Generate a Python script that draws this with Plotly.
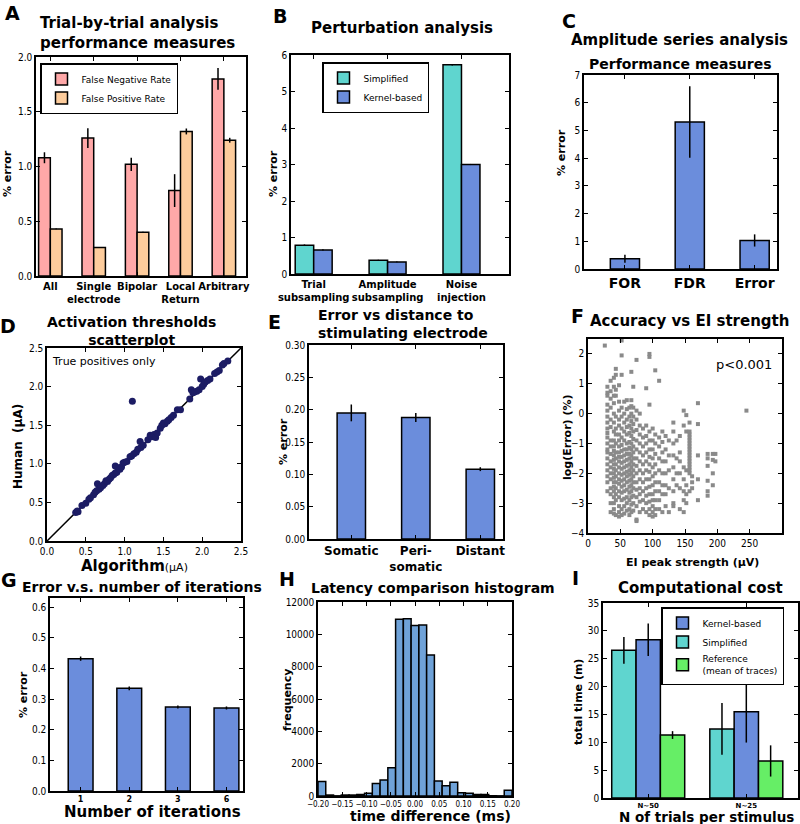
import plotly.graph_objects as go

# ---------------- data ----------------
# A: trial-by-trial analysis
a_labels = ["All", "Single<br>electrode", "Bipolar", "Local<br>Return", "Arbitrary"]
a_fnr = [1.08, 1.26, 1.02, 0.78, 1.80]
a_fnr_err = [0.05, 0.09, 0.06, 0.15, 0.10]
a_fpr = [0.43, 0.26, 0.40, 1.32, 1.24]
a_fpr_err = [0.004, 0.003, 0.005, 0.027, 0.022]

# B: perturbation analysis
b_labels = ["Trial<br>subsampling", "Amplitude<br>subsampling", "Noise<br>injection"]
b_simplified = [0.79, 0.38, 5.73]
b_simplified_err = [0.02, 0.01, 0.02]
b_kernel = [0.66, 0.33, 3.00]
b_kernel_err = [0.015, 0.01, 0.015]

# C: amplitude series analysis
c_labels = ["FOR", "FDR", "Error"]
c_vals = [0.37, 5.30, 1.03]
c_err = [0.14, 1.29, 0.22]

# D: activation thresholds (true positives only)
d_algorithm = [0.37, 0.39, 0.40, 0.45, 0.50, 0.54, 0.56, 0.60, 0.62, 0.64, 0.65, 0.67, 0.69,
               0.70, 0.72, 0.74, 0.76, 0.78, 0.80, 0.82, 0.84, 0.86, 0.88, 0.88, 0.90, 0.92,
               0.94, 0.96, 0.98, 1.00, 1.03, 1.07, 1.09, 1.10, 1.12, 1.15, 1.17, 1.20, 1.21,
               1.24, 1.30, 1.33, 1.35, 1.38, 1.40, 1.42, 1.46, 1.48, 1.50, 1.52, 1.55, 1.57,
               1.60, 1.63, 1.68, 1.72, 1.84, 1.86, 1.88, 1.90, 1.93, 1.96, 1.98, 2.00, 2.02,
               2.04, 2.07, 2.10, 2.16, 2.19, 2.22, 2.26, 2.28, 2.33]
d_human = [0.37, 0.39, 0.38, 0.46, 0.49, 0.54, 0.56, 0.60, 0.63, 0.65, 0.74, 0.67, 0.69,
           0.71, 0.72, 0.74, 0.78, 0.77, 0.80, 0.82, 0.85, 0.86, 0.97, 0.88, 0.89, 0.95,
           0.93, 0.96, 1.01, 1.02, 1.03, 1.09, 1.10, 1.81, 1.13, 1.15, 1.19, 1.29, 1.21,
           1.24, 1.31, 1.37, 1.35, 1.38, 1.34, 1.40, 1.46, 1.50, 1.53, 1.52, 1.55, 1.57,
           1.60, 1.63, 1.70, 1.70, 1.84, 1.96, 1.92, 1.93, 1.94, 1.96, 2.10, 2.00, 2.03,
           2.06, 2.08, 2.10, 2.17, 2.19, 2.21, 2.28, 2.30, 2.33]
d_identity = [0.0, 2.5]

# E: error vs distance to stimulating electrode
e_labels = ["Somatic", "Peri-<br>somatic", "Distant"]
e_vals = [0.195, 0.188, 0.108]
e_err = [0.013, 0.007, 0.003]

# F: accuracy vs EI strength, columns of (EI peak strength, log(error) values)
f_strips = [
    (26, [2.28]),
    (30, [0.9, 0.7, 0.6, 0.3, 0.1, -0.1, -0.3, -0.5, -0.65, -0.8, -1.0, -1.2, -1.3, -1.5,
          -1.7, -1.9, -2.1, -2.3, -2.6]),
    (35, [1.1, 0.75, 0.5, 0.2, -0.2, -0.45, -0.9, -1.1, -1.35, -1.6, -1.8, -2.0, -2.2, -2.5,
          -2.7, -3.0, -3.3]),
    (40, [1.2, 0.9, 0.6, 0.35, 0.0, -0.3, -0.6, -0.9, -1.1, -1.25, -1.4, -1.55, -1.7, -1.85,
          -2.0, -2.15, -2.3, -2.45, -2.6, -2.8, -3.0, -3.2, -3.35]),
    (43, [1.5, 1.3, 0.8, 0.6, -0.1, -0.5, -0.7, -1.0, -1.3, -1.5, -1.7, -1.9, -2.1, -2.3,
          -2.5, -2.7, -2.9, -3.4]),
    (48, [0.95, 0.4, 0.1, -0.2, -0.4, -0.7, -0.9, -1.1, -1.3, -1.45, -1.6, -1.8, -2.0, -2.2,
          -2.35, -2.6, -2.8, -3.1, -3.3, -3.45]),
    (52, [2.45, 1.95, 1.3, 0.2, -0.1, -0.5, -0.8, -1.05, -1.25, -1.45, -1.65, -1.85, -2.05,
          -2.25, -2.45, -2.65, -2.9, -3.2, -3.4]),
    (56, [0.4, 0.0, -0.3, -0.6, -0.9, -1.2, -1.4, -1.6, -1.8, -2.0, -2.2, -2.4, -2.6, -2.85,
          -3.1, -3.35]),
    (60, [0.45, 0.15, -0.2, -0.45, -0.7, -1.0, -1.2, -1.35, -1.55, -1.75, -1.95, -2.1, -2.3,
          -2.55, -2.8, -3.0, -3.25]),
    (64, [0.2, -0.1, -0.4, -0.65, -0.95, -1.15, -1.35, -1.5, -1.7, -1.9, -2.05, -2.25, -2.45,
          -2.65, -2.9, -3.2, -3.4]),
    (67, [1.4, 0.45, 0.25, 0.0, -0.25, -0.5, -0.75, -1.0, -1.2, -1.4, -1.6, -1.8, -2.0, -2.2,
          -2.4, -2.6, -2.8, -3.05, -3.3]),
    (70, [0.9, 0.2, -0.1, -0.35, -0.6, -0.85, -1.1, -1.3, -1.5, -1.7, -1.9, -2.1, -2.3, -2.5,
          -2.75, -3.0, -3.25]),
    (75, [1.8, 0.1, -0.2, -0.55, -0.9, -1.2, -1.5, -1.75, -2.0, -2.3, -2.55, -2.8, -3.1,
          -3.55, -3.6]),
    (80, [0.0, -0.4, -0.7, -1.0, -1.3, -1.6, -1.9, -2.2, -2.5, -2.7, -2.95, -3.3]),
    (85, [-0.5, -0.8, -1.1, -1.4, -1.7, -2.0, -2.3, -2.6, -2.9, -3.2]),
    (90, [0.85, -0.4, -0.75, -1.0, -1.3, -1.6, -1.9, -2.2, -2.5, -2.75, -3.0, -3.3]),
    (95, [2.0, 1.9, 0.3, -0.6, -0.9, -1.2, -1.45, -1.7, -1.95, -2.2, -2.45, -2.7, -2.95,
          -3.2, -3.4]),
    (100, [-0.5, -0.9, -1.2, -1.5, -1.8, -2.1, -2.4, -2.7, -2.9, -3.1, -3.3, -3.45]),
    (104, [1.45, -0.7, -1.0, -1.35, -1.7, -2.0, -2.3, -2.6, -2.9, -3.2, -3.4]),
    (110, [1.1, -0.8, -1.1, -1.5, -1.9, -2.3, -2.6, -2.9, -3.2]),
    (115, [-0.6, -0.95, -1.3, -1.6, -2.0, -2.4, -2.7, -3.3]),
    (120, [-0.75, -1.2, -1.6, -2.0, -2.4, -2.7, -3.1]),
    (125, [-0.9, -1.4, -1.9, -2.5, -3.3]),
    (132, [-0.3, -0.6, -1.0, -1.4, -1.8, -2.2, -2.6, -3.0, -3.1]),
    (137, [-0.9, -1.5, -2.0, -2.4]),
    (142, [-0.75, -1.3, -1.6, -2.0, -2.5, -3.2]),
    (148, [0.1, -0.4, -1.8, -2.2, -2.6, -2.9, -3.3]),
    (152, [-0.05, -0.6, -1.9, -2.4, -2.7, -3.0]),
    (157, [-0.3, -0.6, -0.7, -0.8, -0.9, -1.0, -1.1, -1.2, -1.3, -1.4, -1.5, -1.6, -1.7,
           -1.8, -1.9, -2.0, -2.6]),
    (161, [-2.1, -2.3, -2.5]),
    (170, [0.35, -0.35, -1.4, -2.2, -2.9]),
    (185, [-1.35, -1.5, -1.75, -2.25, -2.6, -2.75]),
    (193, [-1.35, -1.55, -2.0, -2.4]),
    (197, [-1.35, -1.6]),
    (245, [0.1]),
]

# G: error vs number of iterations
g_labels = ["1", "2", "3", "6"]
g_vals = [0.432, 0.335, 0.274, 0.271]
g_err = [0.007, 0.006, 0.005, 0.005]

# H: latency comparison histogram (left bin edges, counts)
h_left_edges = [-0.200, -0.184, -0.168, -0.152, -0.136, -0.120, -0.104, -0.088, -0.072,
                -0.056, -0.040, -0.024, -0.008, 0.008, 0.024, 0.040, 0.056, 0.072, 0.088,
                0.104, 0.120, 0.136, 0.152, 0.168, 0.184]
h_counts = [890, 60, 10, 60, 60, 100, 165, 780, 990, 1750, 10930, 10970, 10540, 10580,
            8720, 930, 640, 845, 200, 165, 100, 100, 15, 10, 350]
h_bin_width = 0.016

# I: computational cost
i_labels = ["N~50", "N~25"]
i_simplified = [26.5, 12.4]
i_simplified_err = [2.4, 4.65]
i_kernel = [28.4, 15.5]
i_kernel_err = [2.9, 5.55]
i_reference = [11.3, 6.65]
i_reference_err = [0.7, 2.8]

# ---------------- style ----------------
W, H = 800, 824
FONT = "DejaVu Sans"
TICK_FONT = "DejaVu Sans Condensed, DejaVu Sans"
PINK = "#ffa8a8"
PEACH = "#fdcc9c"
TURQ = "#5fd5cf"
BLUE = "#6b8ddc"
GREEN = "#66ee66"
HIST = "#6fa2d8"


def xdom(l, r):
    return [l / W, r / W]


def ydom(t, b):
    return [1 - b / H, 1 - t / H]


def axis(**kw):
    base = dict(showline=True, linecolor="black", linewidth=1.5, mirror="ticks",
                ticks="inside", ticklen=4, tickcolor="black", tickwidth=1,
                showgrid=False, zeroline=False, automargin=False,
                tickfont=dict(family=TICK_FONT, size=10, color="black"))
    base.update(kw)
    return base


def note(text, px, py, size, angle=0, align="center", xanchor="center"):
    return dict(text=text, x=px / W, y=1 - py / H, xref="paper", yref="paper",
                showarrow=False, textangle=angle, align=align,
                xanchor=xanchor, yanchor="middle",
                font=dict(family=FONT, size=size, color="black"))


def err(arr):
    return dict(type="data", array=arr, color="black", thickness=1.5, width=0)


def bold(labels):
    return ["<b>" + s + "</b>" for s in labels]


edge = dict(color="black", width=1.5)
fig = go.Figure()

# A
a_pos = list(range(len(a_labels)))
fig.add_trace(go.Bar(x=a_pos, y=a_fnr, width=0.27, offset=-0.27, marker=dict(color=PINK, line=edge),
                     error_y=err(a_fnr_err), name="False Negative Rate", legend="legend",
                     xaxis="x", yaxis="y"))
fig.add_trace(go.Bar(x=a_pos, y=a_fpr, width=0.27, offset=0, marker=dict(color=PEACH, line=edge),
                     error_y=err(a_fpr_err), name="False Positive Rate", legend="legend",
                     xaxis="x", yaxis="y"))

# B
b_pos = list(range(len(b_labels)))
fig.add_trace(go.Bar(x=b_pos, y=b_simplified, width=0.25, offset=-0.25, marker=dict(color=TURQ, line=edge),
                     error_y=err(b_simplified_err), name="Simplified", legend="legend2",
                     xaxis="x2", yaxis="y2"))
fig.add_trace(go.Bar(x=b_pos, y=b_kernel, width=0.25, offset=0, marker=dict(color=BLUE, line=edge),
                     error_y=err(b_kernel_err), name="Kernel-based", legend="legend2",
                     xaxis="x2", yaxis="y2"))

# C
c_pos = list(range(len(c_labels)))
fig.add_trace(go.Bar(x=c_pos, y=c_vals, width=0.45, marker=dict(color=BLUE, line=edge),
                     error_y=err(c_err), showlegend=False, xaxis="x3", yaxis="y3"))

# D
fig.add_trace(go.Scatter(x=d_identity, y=d_identity, mode="lines", line=dict(color="black", width=1.5),
                         showlegend=False, xaxis="x4", yaxis="y4"))
fig.add_trace(go.Scatter(x=d_algorithm, y=d_human, mode="markers",
                         marker=dict(color="#1c1c64", size=7, line=dict(width=0)),
                         showlegend=False, xaxis="x4", yaxis="y4"))

# E
e_pos = list(range(len(e_labels)))
fig.add_trace(go.Bar(x=e_pos, y=e_vals, width=0.44, marker=dict(color=BLUE, line=edge),
                     error_y=err(e_err), showlegend=False, xaxis="x5", yaxis="y5"))

# F
f_x = [x for x, ys in f_strips for _ in ys]
f_y = [y for _, ys in f_strips for y in ys]
fig.add_trace(go.Scatter(x=f_x, y=f_y, mode="markers",
                         marker=dict(symbol="square", color="#8a8a8a", size=4, line=dict(width=0)),
                         showlegend=False, xaxis="x6", yaxis="y6"))

# G
g_pos = list(range(len(g_labels)))
fig.add_trace(go.Bar(x=g_pos, y=g_vals, width=0.51, marker=dict(color=BLUE, line=edge),
                     error_y=err(g_err), showlegend=False, xaxis="x7", yaxis="y7"))

# H
fig.add_trace(go.Bar(x=h_left_edges, y=h_counts, width=h_bin_width, offset=0,
                     marker=dict(color=HIST, line=edge), showlegend=False,
                     xaxis="x8", yaxis="y8"))

# I
i_pos = list(range(len(i_labels)))
fig.add_trace(go.Bar(x=i_pos, y=i_simplified, width=0.248, offset=-0.372, marker=dict(color=TURQ, line=edge),
                     error_y=err(i_simplified_err), name="Simplified", legend="legend3", legendrank=2,
                     xaxis="x9", yaxis="y9"))
fig.add_trace(go.Bar(x=i_pos, y=i_kernel, width=0.248, offset=-0.124, marker=dict(color=BLUE, line=edge),
                     error_y=err(i_kernel_err), name="Kernel-based", legend="legend3", legendrank=1,
                     xaxis="x9", yaxis="y9"))
fig.add_trace(go.Bar(x=i_pos, y=i_reference, width=0.248, offset=0.124, marker=dict(color=GREEN, line=edge),
                     error_y=err(i_reference_err), name="Reference<br>(mean of traces)", legend="legend3",
                     legendrank=3, xaxis="x9", yaxis="y9"))

boxes = {
    1: (36, 57, 246, 276),
    2: (291, 55, 509, 274),
    3: (584, 75, 777, 269),
    4: (47, 348, 241, 541),
    5: (309, 345, 503, 539),
    6: (588, 339, 782, 533),
    7: (50, 598, 243, 791),
    8: (318, 602, 512, 796),
    9: (603, 603, 798, 798),
}

layout = dict(width=W, height=H, margin=dict(l=0, r=0, t=0, b=0),
              paper_bgcolor="white", plot_bgcolor="white", barmode="overlay",
              font=dict(family=FONT, color="black"))

xcfg = {
    1: dict(range=[-0.33, 4.51], tickvals=a_pos, ticktext=bold(a_labels),
            tickfont=dict(family=FONT, size=10, color="black")),
    2: dict(range=[-0.307, 2.643], tickvals=b_pos, ticktext=bold(b_labels),
            tickfont=dict(family=FONT, size=10, color="black")),
    3: dict(range=[-0.631, 2.345], tickvals=c_pos, ticktext=bold(c_labels),
            tickfont=dict(family=FONT, size=14, color="black")),
    4: dict(range=[0, 2.5], tickvals=[0, 0.5, 1.0, 1.5, 2.0, 2.5], tickformat=".1f"),
    5: dict(range=[-0.656, 2.352], tickvals=e_pos, ticktext=bold(e_labels),
            tickfont=dict(family=FONT, size=12, color="black")),
    6: dict(range=[0, 300], tickvals=[0, 50, 100, 150, 200, 250]),
    7: dict(range=[-0.63, 3.34], tickvals=g_pos, ticktext=bold(g_labels),
            tickfont=dict(family=FONT, size=8, color="black")),
    8: dict(range=[-0.2, 0.2], tickvals=[-0.2, -0.15, -0.1, -0.05, 0, 0.05, 0.1, 0.15, 0.2],
            tickformat=".2f", tickfont=dict(family=TICK_FONT, size=8, color="black")),
    9: dict(range=[-0.461, 1.527], tickvals=i_pos, ticktext=bold(i_labels),
            tickfont=dict(family=FONT, size=7, color="black")),
}
ycfg = {
    1: dict(range=[0, 2.0], dtick=0.5, tickformat=".1f"),
    2: dict(range=[0, 6], dtick=1),
    3: dict(range=[0, 7], dtick=1),
    4: dict(range=[0, 2.5], dtick=0.5, tickformat=".1f"),
    5: dict(range=[0, 0.30], dtick=0.05, tickformat=".2f"),
    6: dict(range=[-4, 2.5], tickvals=[-4, -3, -2, -1, 0, 1, 2]),
    7: dict(range=[0, 0.63], dtick=0.1, tickformat=".1f"),
    8: dict(range=[0, 12000], dtick=2000, tickformat="d"),
    9: dict(range=[0, 35], dtick=5),
}

for k, (l, t, r, b) in boxes.items():
    sx = "" if k == 1 else str(k)
    layout["xaxis" + sx] = axis(domain=xdom(l, r), anchor="y" + sx, tickangle=0, **xcfg[k])
    layout["yaxis" + sx] = axis(domain=ydom(t, b), anchor="x" + sx, **ycfg[k])

leg = dict(xanchor="left", yanchor="top", bgcolor="white", bordercolor="black", borderwidth=1.5,
           font=dict(family=FONT, size=9, color="black"), tracegroupgap=0, itemwidth=30)
layout["legend"] = dict(leg, x=40 / W, y=1 - 63 / H)
layout["legend2"] = dict(leg, x=322 / W, y=1 - 62 / H)
layout["legend3"] = dict(leg, x=661 / W, y=1 - 607 / H)

anns = []
# panel letters
for letter, px, py in [("A", 12, 13), ("B", 280, 16), ("C", 569, 21), ("D", 8, 326), ("E", 274, 322),
                       ("F", 577, 316), ("G", 9, 580), ("H", 287, 579), ("I", 575, 578)]:
    anns.append(note("<b>" + letter + "</b>", px, py, 19))

# panel titles
anns += [
    note("<b>Trial-by-trial analysis<br>performance measures</b>", 137, 33, 15, align="left"),
    note("<b>Perturbation analysis</b>", 402, 28, 15),
    note("<b>Amplitude series analysis</b>", 679, 40, 15),
    note("<b>Performance measures</b>", 680, 64, 14),
    note("<b>Activation thresholds<br>scatterplot</b>", 131, 331, 14),
    note("<b>Error vs distance to<br>stimulating electrode</b>", 403, 324, 14, align="left"),
    note("<b>Accuracy vs EI strength</b>", 689, 321, 15),
    note("<b>Error v.s. number of iterations</b>", 142, 587, 14),
    note("<b>Latency comparison histogram</b>", 433, 588, 14),
    note("<b>Computational cost</b>", 700, 588, 15),
]

# axis titles
anns += [
    note("<b>% error</b>", 7, 174, 11, angle=-90),
    note("<b>% error</b>", 273, 174, 11, angle=-90),
    note("<b>% error</b>", 562, 153, 11, angle=-90),
    note("<b>Human  (μA)</b>", 18, 447, 12, angle=-90),
    note("<b>Algorithm</b><span style='font-size:11px'>(μA)</span>", 134, 566, 15),
    note("<b>% error</b>", 283, 442, 11, angle=-90),
    note("<b>log(Error) (%)</b>", 567, 437, 11, angle=-90),
    note("<b>EI peak strength (μV)</b>", 692, 562, 11),
    note("<b>% error</b>", 23, 695, 11, angle=-90),
    note("<b>Number of iterations</b>", 152, 812, 15),
    note("<b>frequency</b>", 287, 700, 11, angle=-90),
    note("<b>time difference (ms)</b>", 431, 816, 14),
    note("<b>total time (m)</b>", 578, 702, 11, angle=-90),
    note("<b>N of trials per stimulus</b>", 706, 817, 13.5),
]

# in-plot texts
anns += [
    note("True positives only", 50, 361, 11, xanchor="left"),
    note("p<0.001", 744, 364, 13),
]

layout["annotations"] = anns
fig.update_layout(**layout)

fig.write_html("out.html", config={"displayModeBar": False},
               post_script="document.body.style.margin='0';document.body.style.overflow='hidden';")
